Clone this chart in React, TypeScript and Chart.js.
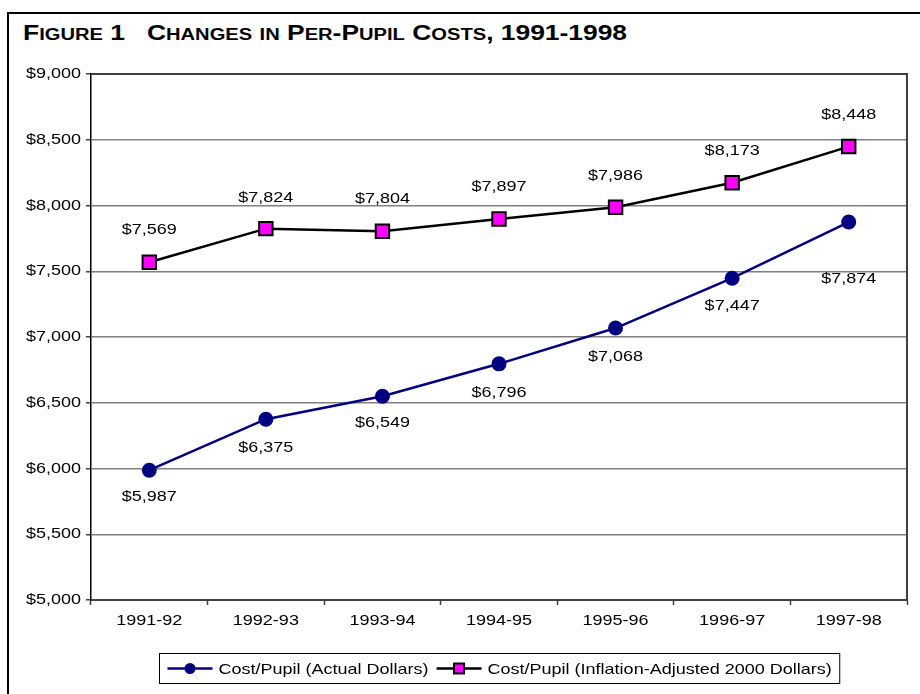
import React, { useEffect, useRef } from "react";
import { Chart, registerables } from "chart.js";

Chart.register(...registerables);

const years = ["1991-92", "1992-93", "1993-94", "1994-95", "1995-96", "1996-97", "1997-98"];
const actualCost = [5987, 6375, 6549, 6796, 7068, 7447, 7874];
const adjustedCost = [7569, 7824, 7804, 7897, 7986, 8173, 8448];
const seriesNames = ["Cost/Pupil (Actual Dollars)", "Cost/Pupil (Inflation-Adjusted 2000 Dollars)"];
const yMin = 5000;
const yMax = 9000;
const yStep = 500;
const titleText = "Figure 1   Changes in Per-Pupil Costs, 1991-1998";

const FONT = "'Liberation Sans', Arial, sans-serif";
const SX = 1.2;
const fmt = (v: number) => "$" + v.toLocaleString("en-US");

function drawText(ctx: CanvasRenderingContext2D, text: string, x: number, y: number, align: CanvasTextAlign) {
  ctx.save();
  ctx.translate(x, y);
  ctx.scale(SX, 1);
  ctx.textAlign = align;
  ctx.textBaseline = "middle";
  ctx.fillText(text, 0, 0);
  ctx.restore();
}

// split the title into runs of capital / lower-case letters for manual small caps
function smallCapsRuns(text: string) {
  const runs: { t: string; small: boolean }[] = [];
  for (const ch of text) {
    const small = ch !== ch.toUpperCase();
    const last = runs[runs.length - 1];
    if (last && last.small === small) last.t += ch.toUpperCase();
    else runs.push({ t: ch.toUpperCase(), small });
  }
  return runs;
}

const framePlugin = {
  id: "frame",
  beforeDatasetsDraw(chart: any) {
    const { ctx, chartArea: a } = chart;
    ctx.save();
    ctx.strokeStyle = "#404040";
    ctx.lineWidth = 2;
    ctx.beginPath();
    ctx.moveTo(a.left, a.top);
    ctx.lineTo(a.right, a.top);
    ctx.lineTo(a.right, a.bottom);
    ctx.stroke();
    ctx.restore();
  },
};

const axisTextPlugin = {
  id: "axisText",
  afterDraw(chart: any, _args: any, opts: any) {
    const { ctx } = chart;
    const xs = chart.scales.x;
    const ys = chart.scales.y;
    ctx.save();
    ctx.font = `15px ${FONT}`;
    ctx.fillStyle = "#000";
    ys.ticks.forEach((t: any) => {
      drawText(ctx, fmt(t.value), opts.yLabelRight, ys.getPixelForValue(t.value), "right");
    });
    chart.data.labels.forEach((lab: string, i: number) => {
      drawText(ctx, lab, xs.getPixelForValue(i), opts.xLabelY, "center");
    });
    ctx.restore();
  },
};

const labelPlugin = {
  id: "valueLabels",
  afterDatasetsDraw(chart: any, _args: any, opts: any) {
    const { ctx } = chart;
    ctx.save();
    ctx.font = `15px ${FONT}`;
    ctx.fillStyle = "#000";
    chart.data.datasets.forEach((ds: any, di: number) => {
      const meta = chart.getDatasetMeta(di);
      const offs: number[] = opts.offsets[di];
      meta.data.forEach((pt: any, i: number) => {
        drawText(ctx, fmt(ds.data[i]), pt.x, pt.y + offs[i], "center");
      });
    });
    ctx.restore();
  },
};

const legendPlugin = {
  id: "customLegend",
  afterDraw(chart: any, _args: any, opts: any) {
    const { ctx, chartArea: a } = chart;
    ctx.save();
    ctx.font = `15px ${FONT}`;
    const symW = 45;
    const gap = 6;
    const itemGap = 8;
    const pad = 8;
    const widths = seriesNames.map((n) => ctx.measureText(n).width * SX);
    const total = pad * 2 + widths.reduce((s, w) => s + symW + gap + w, 0) + itemGap;
    const cx = (a.left + a.right) / 2;
    const x0 = Math.round(cx - total / 2) + 0.5;
    const y0 = opts.top + 0.5;
    const h = opts.height;
    ctx.strokeStyle = "#000";
    ctx.lineWidth = 1;
    ctx.strokeRect(x0, y0, total, h);
    const cy = y0 + h / 2;
    let x = x0 + pad;
    chart.data.datasets.forEach((ds: any, di: number) => {
      ctx.strokeStyle = ds.borderColor;
      ctx.lineWidth = 2.5;
      ctx.beginPath();
      ctx.moveTo(x, cy);
      ctx.lineTo(x + symW, cy);
      ctx.stroke();
      const mx = x + symW / 2;
      if (ds.pointStyle === "rect") {
        ctx.fillStyle = ds.pointBackgroundColor;
        ctx.strokeStyle = ds.pointBorderColor;
        ctx.lineWidth = 2;
        ctx.fillRect(mx - 5, cy - 5, 10, 10);
        ctx.strokeRect(mx - 5, cy - 5, 10, 10);
      } else {
        ctx.fillStyle = ds.pointBackgroundColor;
        ctx.beginPath();
        ctx.arc(mx, cy, 5.5, 0, Math.PI * 2);
        ctx.fill();
      }
      ctx.fillStyle = "#000";
      drawText(ctx, seriesNames[di], x + symW + gap, cy + 1, "left");
      x += symW + gap + widths[di] + itemGap;
    });
    ctx.restore();
  },
};

export default function App() {
  const ref = useRef<HTMLCanvasElement | null>(null);
  useEffect(() => {
    if (!ref.current) return;
    const chart = new Chart(ref.current, {
      type: "line",
      data: {
        labels: years,
        datasets: [
          {
            label: seriesNames[0],
            data: actualCost,
            borderColor: "#000080",
            backgroundColor: "#000080",
            borderWidth: 2.5,
            pointStyle: "circle",
            pointRadius: 7.5,
            pointBackgroundColor: "#000080",
            pointBorderColor: "#000080",
            pointBorderWidth: 0,
            tension: 0,
          },
          {
            label: seriesNames[1],
            data: adjustedCost,
            borderColor: "#000000",
            backgroundColor: "#FF00FF",
            borderWidth: 2.5,
            pointStyle: "rect",
            pointRadius: 9.5,
            pointBackgroundColor: "#FF00FF",
            pointBorderColor: "#000000",
            pointBorderWidth: 2,
            tension: 0,
          },
        ],
      },
      options: {
        animation: false,
        responsive: false,
        events: [],
        layout: { padding: { top: 74, right: 13, left: 0, bottom: 0 } },
        plugins: {
          legend: { display: false },
          tooltip: { enabled: false },
          title: { display: false },
          valueLabels: {
            offsets: [
              [27, 29, 27, 29, 29, 28, 57],
              [-32, -31, -32, -32, -31, -32, -32],
            ],
          },
          axisText: { yLabelRight: 81, xLabelY: 621 },
          customLegend: { top: 653, height: 30 },
        } as any,
        scales: {
          x: {
            type: "category",
            offset: true,
            afterFit: (s: any) => {
              s.height = 94;
            },
            grid: {
              offset: true,
              drawOnChartArea: false,
              tickLength: 5,
              tickColor: "#404040",
              tickWidth: 1.5,
            },
            border: { color: "#404040", width: 2 },
            ticks: { display: false },
          },
          y: {
            min: yMin,
            max: yMax,
            afterFit: (s: any) => {
              s.width = 91;
            },
            grid: {
              color: "#808080",
              lineWidth: 1.5,
              tickLength: 5,
              tickColor: "#404040",
              tickWidth: 1.5,
            },
            border: { color: "#000", width: 1.5 },
            ticks: { stepSize: yStep, display: false },
          },
        },
      },
      plugins: [framePlugin, labelPlugin, axisTextPlugin, legendPlugin],
    });
    return () => chart.destroy();
  }, []);

  const runs = smallCapsRuns(titleText);

  return (
    <div style={{ position: "absolute", left: 0, top: 0, width: 920, height: 694, background: "#fff", overflow: "hidden" }}>
      <div
        style={{
          position: "absolute",
          left: 7,
          top: 12,
          right: -4,
          bottom: -4,
          borderLeft: "2px solid #000",
          borderTop: "2px solid #000",
        }}
      />
      <div
        style={{
          position: "absolute",
          left: 23,
          top: 22,
          fontFamily: FONT,
          fontWeight: "bold",
          fontSize: 22,
          lineHeight: "22px",
          whiteSpace: "pre",
          color: "#000",
          transform: `scaleX(${SX})`,
          transformOrigin: "0 0",
        }}
      >
        {runs.map((r, i) => (
          <span key={i} style={{ fontSize: r.small ? 16.8 : 22 }}>
            {r.t}
          </span>
        ))}
      </div>
      <canvas ref={ref} width={920} height={694} style={{ position: "absolute", left: 0, top: 0 }} />
    </div>
  );
}
